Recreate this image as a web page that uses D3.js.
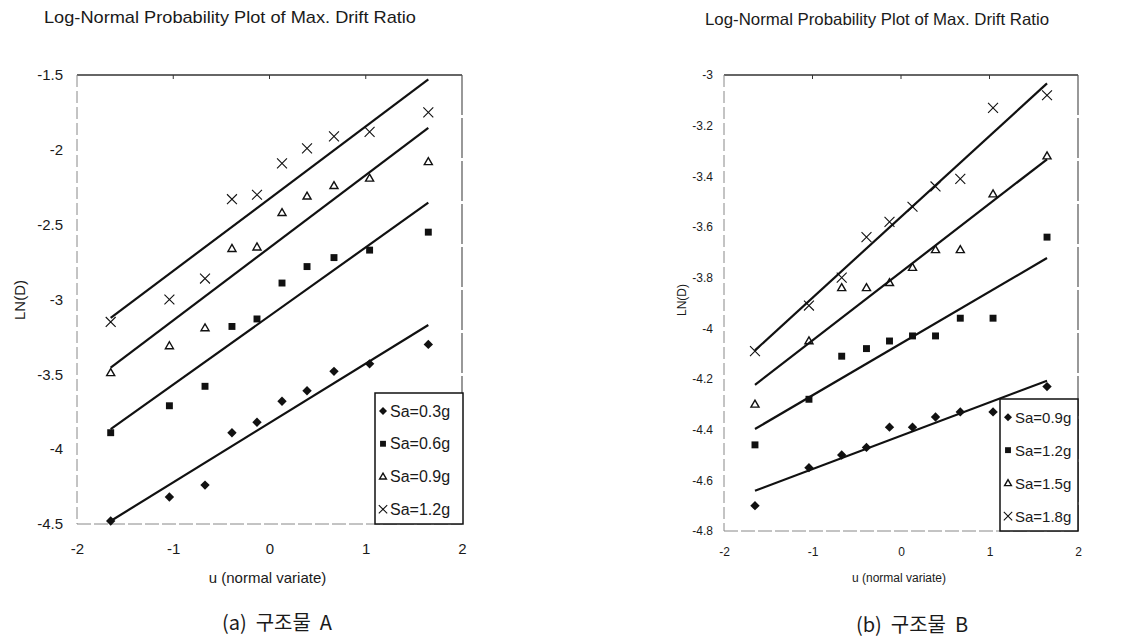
<!DOCTYPE html>
<html>
<head>
<meta charset="utf-8">
<script src="https://cdn.jsdelivr.net/npm/d3@7"></script>
<style>
body{margin:0;background:#fff;}
text{font-family:"Liberation Sans",Arial,sans-serif;fill:#1a1a1a;}
</style>
</head>
<body>
<script>
// normal variate (plotting positions), shared by both panels
var uVals = [-1.65,-1.04,-0.67,-0.39,-0.13,0.13,0.39,0.67,1.04,1.65];
var xTicks = [-2,-1,0,1,2];

// structure A
var labelsA = ["Sa=0.3g","Sa=0.6g","Sa=0.9g","Sa=1.2g"];
var lnA_03 = [-4.48,-4.32,-4.24,-3.89,-3.82,-3.68,-3.61,-3.48,-3.43,-3.30];
var lnA_06 = [-3.89,-3.71,-3.58,-3.18,-3.13,-2.89,-2.78,-2.72,-2.67,-2.55];
var lnA_09 = [-3.49,-3.31,-3.19,-2.66,-2.65,-2.42,-2.31,-2.24,-2.19,-2.08];
var lnA_12 = [-3.15,-3.00,-2.86,-2.33,-2.30,-2.09,-1.99,-1.91,-1.88,-1.75];
var yTicksA = [-1.5,-2,-2.5,-3,-3.5,-4,-4.5];

// structure B
var labelsB = ["Sa=0.9g","Sa=1.2g","Sa=1.5g","Sa=1.8g"];
var lnB_09 = [-4.70,-4.55,-4.50,-4.47,-4.39,-4.39,-4.35,-4.33,-4.33,-4.23];
var lnB_12 = [-4.46,-4.28,-4.11,-4.08,-4.05,-4.03,-4.03,-3.96,-3.96,-3.64];
var lnB_15 = [-4.30,-4.05,-3.84,-3.84,-3.82,-3.76,-3.69,-3.69,-3.47,-3.32];
var lnB_18 = [-4.09,-3.91,-3.80,-3.64,-3.58,-3.52,-3.44,-3.41,-3.13,-3.08];
var yTicksB = [-3,-3.2,-3.4,-3.6,-3.8,-4,-4.2,-4.4,-4.6,-4.8];

var titleText = "Log-Normal Probability Plot of Max. Drift Ratio";

var svg = d3.select("body").append("svg").attr("width",1143).attr("height",639);
svg.append("rect").attr("width",1143).attr("height",639).attr("fill","#fff");

var markerKinds = ["diamond","square","triangle","times"];

function drawMarker(g, kind, cx, cy, scale){
  var s = scale || 1;
  if(kind=="diamond"){
    g.append("path").attr("d",d3.symbol(d3.symbolSquare, 44*s*s)())
      .attr("transform","translate("+cx+","+cy+") rotate(45)").attr("fill","#111");
  } else if(kind=="square"){
    g.append("path").attr("d",d3.symbol(d3.symbolSquare, 48*s*s)())
      .attr("transform","translate("+cx+","+cy+")").attr("fill","#111");
  } else if(kind=="triangle"){
    g.append("path").attr("d",d3.symbol(d3.symbolTriangle, 28*s*s)())
      .attr("transform","translate("+cx+","+(cy+0.5)+")")
      .attr("fill","none").attr("stroke","#111").attr("stroke-width",1.4);
  } else {
    g.append("path").attr("d",d3.symbol(d3.symbolTimes, 66*s*s)())
      .attr("transform","translate("+cx+","+cy+")")
      .attr("fill","none").attr("stroke","#111").attr("stroke-width",1.1);
  }
}

// least squares fit of ln(D) on u
function fitLine(us, ys){
  var mu = d3.mean(us), my = d3.mean(ys);
  var sxy = d3.sum(us,function(u,i){return (u-mu)*(ys[i]-my);});
  var sxx = d3.sum(us,function(u){return (u-mu)*(u-mu);});
  var b = sxy/sxx;
  var ext = d3.extent(us);
  return ext.map(function(u){return {u:u, v:my + b*(u-mu)};});
}

function drawPanel(cfg){
  var x = d3.scaleLinear().domain([-2,2]).range([cfg.left,cfg.right]);
  var y = d3.scaleLinear().domain(cfg.yDomain).range([cfg.bottom,cfg.top]);
  var g = svg.append("g");

  // title
  g.append("text").attr("x",cfg.titleX).attr("y",cfg.titleY)
    .attr("text-anchor","middle").attr("font-size",cfg.titleSize)
    .attr("textLength",cfg.titleLen).attr("lengthAdjust","spacingAndGlyphs")
    .text(titleText);

  // frame: solid top/right, light broken left/bottom
  g.append("line").attr("x1",cfg.left).attr("x2",cfg.right).attr("y1",cfg.top).attr("y2",cfg.top)
    .attr("stroke","#333").attr("stroke-width",1.4);
  g.append("line").attr("x1",cfg.right).attr("x2",cfg.right).attr("y1",cfg.top).attr("y2",cfg.bottom)
    .attr("stroke","#555").attr("stroke-width",1.2).attr("stroke-dasharray","40,3");
  g.append("line").attr("x1",cfg.left).attr("x2",cfg.left).attr("y1",cfg.top).attr("y2",cfg.bottom)
    .attr("stroke","#888").attr("stroke-width",1).attr("stroke-dasharray","12,4");
  g.append("line").attr("x1",cfg.left).attr("x2",cfg.right).attr("y1",cfg.bottom).attr("y2",cfg.bottom)
    .attr("stroke","#888").attr("stroke-width",1).attr("stroke-dasharray","14,3");
  // small ticks hanging from the top edge
  g.selectAll(".topTick").data(xTicks.slice(1,4)).enter().append("line")
    .attr("x1",function(d){return x(d);}).attr("x2",function(d){return x(d);})
    .attr("y1",cfg.top).attr("y2",cfg.top+4).attr("stroke","#333").attr("stroke-width",1);

  // axes
  var yAxis = d3.axisLeft(y).tickValues(cfg.yTicks).tickSize(0).tickPadding(cfg.yPad)
    .tickFormat(function(d){return String(d);});
  var ya = g.append("g").attr("transform","translate("+cfg.left+",0)").call(yAxis);
  ya.select(".domain").remove();
  ya.selectAll("text").attr("font-size",cfg.tickSize).attr("fill","#1a1a1a")
    .style("font-family","'Liberation Sans',Arial,sans-serif");

  var xAxis = d3.axisBottom(x).tickValues(xTicks).tickSize(0).tickPadding(cfg.xPad)
    .tickFormat(function(d){return String(d);});
  var xa = g.append("g").attr("transform","translate(0,"+cfg.bottom+")").call(xAxis);
  xa.select(".domain").remove();
  xa.selectAll("text").attr("font-size",cfg.tickSize).attr("fill","#1a1a1a")
    .style("font-family","'Liberation Sans',Arial,sans-serif");

  // axis titles
  g.append("text").attr("x",(cfg.left+cfg.right)/2 - 2).attr("y",cfg.xLabelY)
    .attr("text-anchor","middle").attr("font-size",cfg.labelSize).text("u (normal variate)");
  g.append("text").attr("transform","translate("+cfg.yLabelX+","+cfg.yLabelY+") rotate(-90)")
    .attr("text-anchor","middle").attr("font-size",cfg.labelSize).text("LN(D)");

  // trend lines and points
  cfg.series.forEach(function(vals,i){
    var pts = fitLine(uVals, vals);
    g.append("line")
      .attr("x1",x(pts[0].u)).attr("y1",y(pts[0].v))
      .attr("x2",x(pts[1].u)).attr("y2",y(pts[1].v))
      .attr("stroke","#111").attr("stroke-width",2.2);
  });
  cfg.series.forEach(function(vals,i){
    vals.forEach(function(v,j){
      drawMarker(g, markerKinds[i], x(uVals[j]), y(v), 1);
    });
  });

  // legend
  var lg = g.append("g");
  lg.append("rect").attr("x",cfg.legX).attr("y",cfg.legY).attr("width",cfg.legW).attr("height",cfg.legH)
    .attr("fill","#fff").attr("stroke","#111").attr("stroke-width",1.5);
  cfg.labels.forEach(function(lab,i){
    var cy = cfg.legY + cfg.legH*(i+0.55)/4;
    drawMarker(lg, markerKinds[i], cfg.legX+8, cy, 0.85);
    lg.append("text").attr("x",cfg.legX+15).attr("y",cy+5.5)
      .attr("font-size",cfg.legSize).text(lab);
  });

  // caption
  g.append("text").attr("x",cfg.capX).attr("y",cfg.capY).attr("text-anchor","middle")
    .attr("font-size",20).style("font-family","'Noto Sans CJK KR','Noto Sans',sans-serif")
    .style("white-space","pre")
    .text(cfg.caption);
}

drawPanel({
  left:77, right:462, top:75, bottom:524, yDomain:[-4.5,-1.5], yTicks:yTicksA,
  titleX:230, titleY:23, titleSize:17, titleLen:372,
  tickSize:15, yPad:14, xPad:19, labelSize:15, xLabelY:583, yLabelX:25, yLabelY:300,
  series:[lnA_03,lnA_06,lnA_09,lnA_12], labels:labelsA,
  legX:375, legY:393, legW:88, legH:131, legSize:16,
  caption:"(a)\u00a0 구조물\u00a0 A", capX:277, capY:630
});

drawPanel({
  left:724, right:1078, top:75, bottom:531, yDomain:[-4.8,-3], yTicks:yTicksB,
  titleX:877, titleY:25, titleSize:16.5, titleLen:344,
  tickSize:12, yPad:11, xPad:16, labelSize:12, xLabelY:582, yLabelX:686, yLabelY:300,
  series:[lnB_09,lnB_12,lnB_15,lnB_18], labels:labelsB,
  legX:1000, legY:399, legW:78, legH:132, legSize:15,
  caption:"(b)\u00a0 구조물\u00a0 B", capX:912, capY:632
});
</script>
</body>
</html>
